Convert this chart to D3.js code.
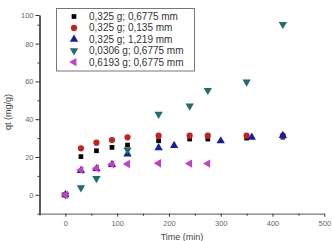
<!DOCTYPE html>
<html>
<head>
<meta charset="utf-8">
<script src="https://cdn.jsdelivr.net/npm/d3@7"></script>
<style>
body { margin: 0; background: #fff; }
svg { display: block; font-family: Arial, "Liberation Sans", sans-serif; }
</style>
</head>
<body>
<div id="graph"></div>
<script>
var svgWidth = 332;
var svgHeight = 241;

// data
var seriesNames = ["0,325 g; 0,6775 mm", "0,325 g; 0,135 mm", "0,325 g; 1,219 mm", "0,0306 g; 0,6775 mm", "0,6193 g; 0,6775 mm"];

var t_black = [0, 30, 60, 90, 120, 180, 240, 275, 350, 420];
var q_black = [0, 20.2, 23.3, 25.1, 26.3, 28.6, 29.5, 29.5, 30, 30.5];

var t_red = [0, 30, 60, 90, 120, 180, 240, 275, 350, 420];
var q_red = [0, 24.6, 27.6, 29, 30.4, 31.3, 31.3, 31.3, 31.3, 31.3];

var t_blue = [0, 30, 60, 90, 120, 180, 210, 300, 360, 420];
var q_blue = [0, 12.8, 13.8, 16, 21.6, 24.8, 26, 28.5, 30.4, 31.3];

var t_teal = [0, 30, 60, 120, 180, 240, 275, 350, 420];
var q_teal = [0, 3.8, 8.7, 23.7, 42.7, 47, 55.3, 59.7, 90.4];

var t_mag = [0, 30, 60, 90, 120, 180, 240, 275];
var q_mag = [0, 13.1, 14, 16.1, 16.3, 16.7, 16.5, 16.5];

var xTicks = [0, 100, 200, 300, 400, 500];
var xMinor = [-50, 50, 150, 250, 350, 450];
var yTicks = [0, 20, 40, 60, 80, 100];
var yMinor = [-10, 10, 30, 50, 70, 90];

var svg = d3.select("#graph")
	.append("svg")
	.attr("width", svgWidth)
	.attr("height", svgHeight);

var x = d3.scaleLinear().domain([-50, 500]).range([39.5, 324.3]);
// the picture's y axis is squeezed above 90, so a two-part scale
var y = d3.scaleLinear().domain([-10, 90, 100]).range([213.7, 24.7, 15]);

// axes
var yAxis = svg.append("g")
	.attr("transform", "translate(39.5,0)")
	.call(d3.axisLeft(y).tickValues(yTicks).tickSize(4).tickSizeOuter(0).tickPadding(2));
yAxis.select(".domain").attr("stroke", "#000").attr("stroke-width", 1.3);
yAxis.selectAll(".tick line").attr("stroke", "#333");
yAxis.selectAll("text").attr("fill", "#666").style("font-size", "7.5px");
svg.append("g")
	.attr("transform", "translate(39.5,0)")
	.call(d3.axisLeft(y).tickValues(yMinor).tickSize(2).tickFormat(""))
	.call(g => g.select(".domain").remove())
	.selectAll("line").attr("stroke", "#333");

var xAxis = svg.append("g")
	.attr("transform", "translate(0,213.7)")
	.call(d3.axisBottom(x).tickValues(xTicks).tickSize(3).tickSizeOuter(0).tickPadding(4));
xAxis.select(".domain").attr("stroke", "#777").attr("stroke-width", 1.2);
xAxis.selectAll(".tick line").attr("stroke", "#333");
xAxis.selectAll("text").attr("fill", "#666").style("font-size", "7.5px");
svg.append("g")
	.attr("transform", "translate(0,213.7)")
	.call(d3.axisBottom(x).tickValues(xMinor).tickSize(2).tickFormat(""))
	.call(g => g.select(".domain").remove())
	.selectAll("line").attr("stroke", "#333");

svg.append("text")
	.attr("x", 182).attr("y", 240)
	.attr("text-anchor", "middle")
	.attr("fill", "#444")
	.style("font-size", "9px")
	.text("Time (min)");

svg.append("text")
	.attr("transform", "translate(11,112) rotate(-90)")
	.attr("text-anchor", "middle")
	.attr("fill", "#444")
	.style("font-size", "9px")
	.text("qt (mg/g)");

// symbols
var sym = [
	{ shape: d3.symbolSquare, size: 22, color: "#000000", rot: 0 },
	{ shape: d3.symbolCircle, size: 30, color: "#c8201e", rot: 0 },
	{ shape: d3.symbolTriangle, size: 30, color: "#161ea0", rot: 0 },
	{ shape: d3.symbolTriangle, size: 30, color: "#1f6e6c", rot: 180 },
	{ shape: d3.symbolTriangle, size: 30, color: "#c83cc8", rot: -90 }
];

var series = [
	[t_black, q_black],
	[t_red, q_red],
	[t_blue, q_blue],
	[t_teal, q_teal],
	[t_mag, q_mag]
];

series.forEach(function (s, k) {
	var pts = s[0].map((t, i) => ({ t: t, q: s[1][i] }));
	svg.append("g").selectAll("path")
		.data(pts)
		.enter()
		.append("path")
		.attr("d", d3.symbol().type(sym[k].shape).size(sym[k].size))
		.attr("transform", d => "translate(" + x(d.t) + "," + y(d.q) + ") rotate(" + sym[k].rot + ")")
		.attr("fill", sym[k].color);
});

// legend
var lg = svg.append("g");
lg.append("rect")
	.attr("x", 56.5).attr("y", 8.5)
	.attr("width", 138).attr("height", 62.5)
	.attr("fill", "#fff")
	.attr("stroke", "#777");

seriesNames.forEach(function (name, k) {
	var ly = 16.5 + k * 11.4;
	lg.append("path")
		.attr("d", d3.symbol().type(sym[k].shape).size(sym[k].size))
		.attr("transform", "translate(74," + ly + ") rotate(" + sym[k].rot + ")")
		.attr("fill", sym[k].color);
	lg.append("text")
		.attr("x", 89).attr("y", ly + 3.5)
		.attr("fill", "#333")
		.style("font-size", "10px")
		.text(name);
});
</script>
</body>
</html>
